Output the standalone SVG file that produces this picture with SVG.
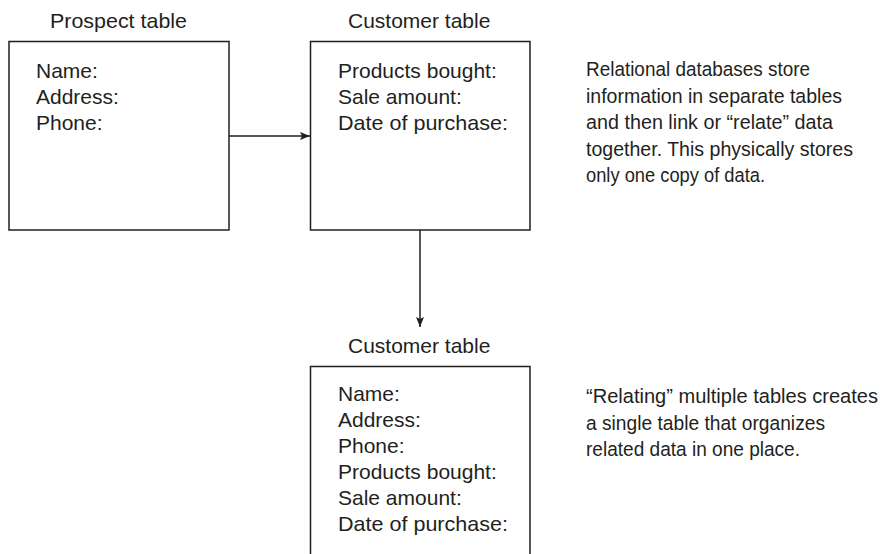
<svg xmlns="http://www.w3.org/2000/svg" width="884" height="554" viewBox="0 0 884 554">
<defs>
<style>
text{font-family:"Liberation Sans",Arial,sans-serif;font-size:21px;fill:#231f20}
.note text{font-size:20.5px}
.box{fill:none;stroke:#231f20;stroke-width:1.5}
.conn{fill:none;stroke:#231f20;stroke-width:1.5}
</style>
<marker id="ah" viewBox="0 0 10 8" refX="10" refY="4" markerWidth="10" markerHeight="8" markerUnits="userSpaceOnUse" orient="auto">
<path d="M0,0 L10,4 L0,8 L2,4 Z" fill="#231f20"/>
</marker>
</defs>
<rect width="884" height="554" fill="#fff"/>
<g id="prospect">
<text x="50" y="28" textLength="137" lengthAdjust="spacingAndGlyphs">Prospect table</text>
<rect class="box" x="9" y="41.5" width="220" height="188.5"/>
<text x="36" y="77.5">Name:</text>
<text x="36" y="103.5">Address:</text>
<text x="36" y="129.5">Phone:</text>
</g>
<g id="customer1">
<text x="348" y="28">Customer table</text>
<rect class="box" x="310.5" y="41.5" width="219.5" height="188.5"/>
<text x="338" y="77.5">Products bought:</text>
<text x="338" y="103.5">Sale amount:</text>
<text x="338" y="129.5" textLength="170" lengthAdjust="spacingAndGlyphs">Date of purchase:</text>
</g>
<g id="note1" class="note">
<text x="586" y="76" textLength="224" lengthAdjust="spacingAndGlyphs">Relational databases store</text>
<text x="586" y="102.5" textLength="256" lengthAdjust="spacingAndGlyphs">information in separate tables</text>
<text x="586" y="129" textLength="247" lengthAdjust="spacingAndGlyphs">and then link or “relate” data</text>
<text x="586" y="155.5" textLength="267" lengthAdjust="spacingAndGlyphs">together. This physically stores</text>
<text x="586" y="182" textLength="179" lengthAdjust="spacingAndGlyphs">only one copy of data.</text>
</g>
<g id="customer2">
<text x="348" y="353">Customer table</text>
<path class="box" d="M310.5,560 V366.5 H530 V560"/>
<text x="338" y="400.5">Name:</text>
<text x="338" y="426.5">Address:</text>
<text x="338" y="452.5">Phone:</text>
<text x="338" y="478.5">Products bought:</text>
<text x="338" y="504.5">Sale amount:</text>
<text x="338" y="530.5" textLength="170" lengthAdjust="spacingAndGlyphs">Date of purchase:</text>
</g>
<g id="note2" class="note">
<text x="586" y="403" textLength="292" lengthAdjust="spacingAndGlyphs">“Relating” multiple tables creates</text>
<text x="586" y="429.5" textLength="239" lengthAdjust="spacingAndGlyphs">a single table that organizes</text>
<text x="586" y="456" textLength="214" lengthAdjust="spacingAndGlyphs">related data in one place.</text>
</g>
<g id="connectors">
<line class="conn" x1="229" y1="136" x2="310" y2="136" marker-end="url(#ah)"/>
<line class="conn" x1="420" y1="230" x2="420" y2="327" marker-end="url(#ah)"/>
</g>
</svg>
